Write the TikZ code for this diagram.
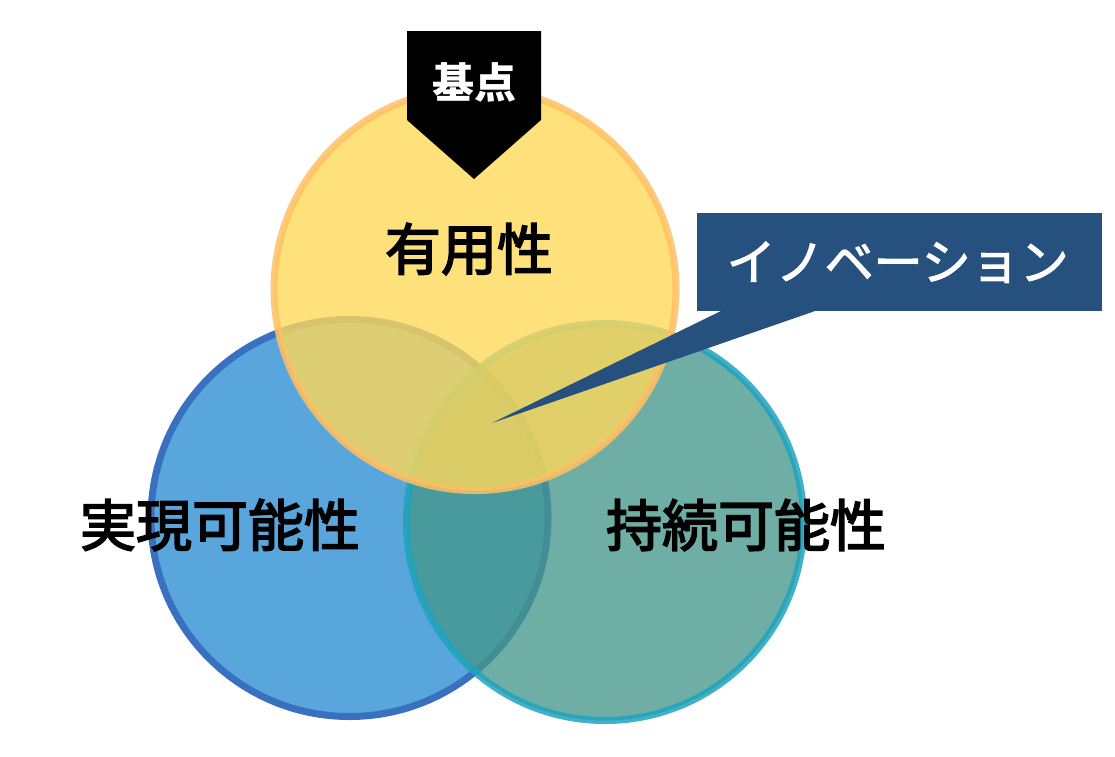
\documentclass[tikz,border=0pt]{standalone}
\usepackage{fontspec}
\newfontfamily\jp[FakeBold=3]{Noto Sans CJK JP}
\newfontfamily\jpk[FakeBold=2.2]{Noto Sans CJK JP}
\newfontfamily\jpb{Noto Sans CJK JP}
\definecolor{bluefill}{HTML}{58A6DC}
\definecolor{blueline}{HTML}{3A70C0}
\definecolor{tealfill}{HTML}{45978C}
\definecolor{tealline}{HTML}{1FA3BE}
\definecolor{yelfill}{HTML}{FFD95A}
\definecolor{yelline}{HTML}{FFC064}
\definecolor{navy}{HTML}{26507E}
\tikzset{
  ring/.style={circle, minimum size=397pt, inner sep=0pt, line width=7pt},
  biglabel/.style={font=\jp\fontsize{56}{62}\selectfont, text=black, inner sep=0pt},
}
\begin{document}
\begin{tikzpicture}[x=1pt,y=-1pt]
\useasboundingbox (0,0) rectangle (1115,756);
% circles
\node[ring, fill=bluefill, draw=blueline] (real) at (349.5,518) {};
\node[ring, fill=tealfill, draw=tealline, fill opacity=0.78, draw opacity=0.85] (sust) at (605,522) {};
\node[ring, minimum size=402pt, fill=yelfill, draw=yelline, fill opacity=0.8, draw opacity=0.85] (use) at (475,289.5) {};
% labels
\node[biglabel] (tuse) at (469,249) {有用性};
\node[biglabel] (treal) at (220,525) {実現可能性};
\node[biglabel] (tsust) at (746,525) {持続可能性};
% base marker
\coordinate (b1) at (407,31);
\coordinate (b2) at (541,31);
\coordinate (b3) at (541,120);
\coordinate (b4) at (474,179);
\coordinate (b5) at (407,120);
\fill[black] (b1) -- (b2) -- (b3) -- (b4) -- (b5) -- cycle;
\node[font=\jpb\bfseries\fontsize{42}{48}\selectfont, text=white, inner sep=0pt] (tbase) at (474,82) {基点};
% innovation callout
\node[fill=navy, minimum width=405pt, minimum height=98pt, inner sep=0pt, anchor=north west] (innov) at (697,213) {};
\coordinate (p1) at (723,310);
\coordinate (p2) at (818,310);
\coordinate (p3) at (492,423);
\fill[navy] (p1) -- (p2) -- (p3) -- cycle;
\node[font=\jpk\fontsize{49}{56}\selectfont, text=white, inner sep=0pt] (tinnov) at ([xshift=-2pt]innov.center) {イノベーション};
\end{tikzpicture}
\end{document}
